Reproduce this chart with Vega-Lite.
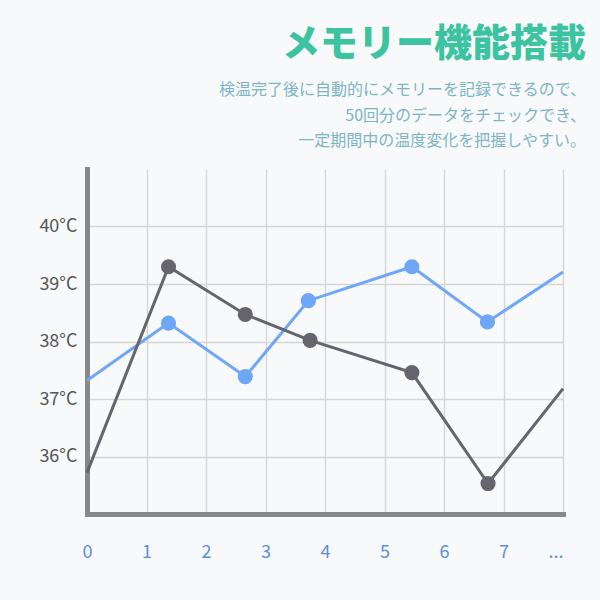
{
  "$schema": "https://vega.github.io/schema/vega-lite/v6.json",
  "width": 476,
  "height": 345,
  "autosize": {"type": "none"},
  "padding": {"left": 87, "top": 169, "right": 37, "bottom": 86},
  "background": "#f8f9fa",
  "config": {"view": {"stroke": null}, "font": "Noto Sans CJK JP"},
  "title": {
    "text": "メモリー機能搭載",
    "subtitle": ["検温完了後に自動的にメモリーを記録できるので、", "50回分のデータをチェックでき、", "一定期間中の温度変化を把握しやすい。"],
    "anchor": "end",
    "frame": "group",
    "orient": "top",
    "align": "right",
    "dx": 23,
    "offset": 20,
    "font": "Noto Sans CJK JP",
    "fontSize": 38,
    "fontWeight": 900,
    "color": "#3cc3a0",
    "subtitleFont": "Noto Sans CJK JP",
    "subtitleFontSize": 16,
    "subtitleFontWeight": 400,
    "subtitleColor": "#7db5c6",
    "subtitleLineHeight": 25.5,
    "subtitlePadding": 18
  },
  "data": {
    "values": [
      {"series": "blue", "index": 0, "temp": 37.32},
      {"series": "blue", "index": 1.37, "temp": 38.32},
      {"series": "blue", "index": 2.66, "temp": 37.39},
      {"series": "blue", "index": 3.72, "temp": 38.71},
      {"series": "blue", "index": 5.46, "temp": 39.3},
      {"series": "blue", "index": 6.73, "temp": 38.34},
      {"series": "blue", "index": 8, "temp": 39.21},
      {"series": "gray", "index": 0, "temp": 35.72},
      {"series": "gray", "index": 1.37, "temp": 39.3},
      {"series": "gray", "index": 2.66, "temp": 38.47},
      {"series": "gray", "index": 3.75, "temp": 38.02},
      {"series": "gray", "index": 5.46, "temp": 37.46},
      {"series": "gray", "index": 6.74, "temp": 35.53},
      {"series": "gray", "index": 8, "temp": 37.18}
    ]
  },
  "encoding": {
    "x": {
      "field": "index",
      "type": "quantitative",
      "scale": {"domain": [0, 8], "nice": false, "zero": false},
      "axis": {
        "title": null,
        "values": [0, 1, 2, 3, 4, 5, 6, 7, 8],
        "labelExpr": "datum.value == 8 ? '...' : datum.label",
        "labelAlign": {"condition": {"test": "datum.value == 8", "value": "right"}, "value": "center"},
        "labelBaseline": "top",
        "labelFont": "Noto Sans CJK JP",
        "labelFontSize": 18,
        "labelColor": "#5b8fe0",
        "labelPadding": 29,
        "labelOverlap": false,
        "labelFlush": false,
        "labelBound": false,
        "ticks": false,
        "tickSize": 0,
        "domainColor": "#888888",
        "domainWidth": 5,
        "domainCap": "square",
        "gridColor": "#d6d6d6",
        "gridWidth": 1.4
      }
    },
    "y": {
      "field": "temp",
      "type": "quantitative",
      "scale": {"domain": [35, 41], "nice": false, "zero": false},
      "axis": {
        "title": null,
        "values": [36, 37, 38, 39, 40],
        "labelExpr": "datum.value + '°C'",
        "labelFont": "Noto Sans CJK JP",
        "labelFontSize": 18,
        "labelColor": "#555555",
        "labelPadding": 10,
        "ticks": false,
        "tickSize": 0,
        "domainColor": "#888888",
        "domainWidth": 5,
        "domainCap": "square",
        "gridColor": "#d6d6d6",
        "gridWidth": 1.4
      }
    },
    "color": {
      "field": "series",
      "type": "nominal",
      "scale": {"domain": ["blue", "gray"], "range": ["#6ea6f8", "#66646e"]},
      "legend": null
    }
  },
  "layer": [
    {"mark": {"type": "line", "strokeWidth": 3}},
    {
      "transform": [{"filter": "datum.index > 0 && datum.index < 8"}],
      "mark": {"type": "point", "filled": true, "size": 230, "opacity": 1}
    }
  ]
}
